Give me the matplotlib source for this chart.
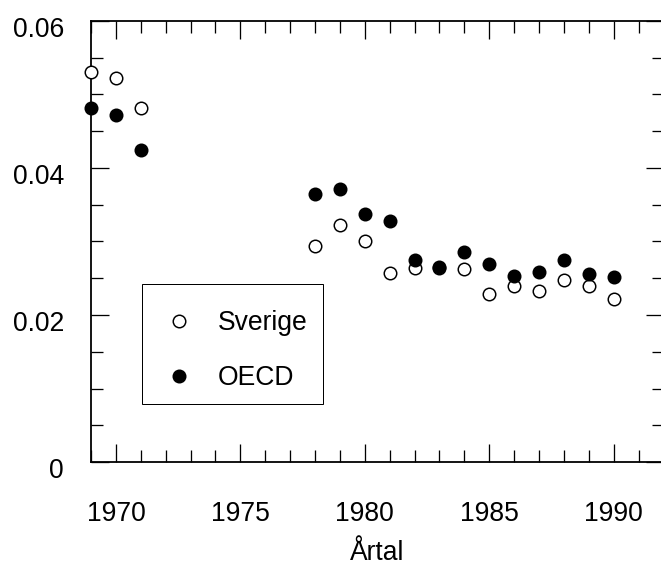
import matplotlib
matplotlib.use("Agg")
import matplotlib.pyplot as plt
import matplotlib.transforms as mtransforms
from matplotlib.patches import Rectangle
from matplotlib.ticker import MultipleLocator, FixedLocator

# ----- ----- DATA ----- -----
years_early = [1969, 1970, 1971]
years_late = list(range(1978, 1991))
years = years_early + years_late

sverige = [0.0531, 0.0522, 0.0482,
           0.0294, 0.0322, 0.0300, 0.0257, 0.0264, 0.0264, 0.0262,
           0.0229, 0.0240, 0.0232, 0.0248, 0.0239, 0.0222]
oecd = [0.0481, 0.0472, 0.0425,
        0.0365, 0.0372, 0.0338, 0.0328, 0.0275, 0.0265, 0.0286,
        0.0269, 0.0253, 0.0258, 0.0275, 0.0256, 0.0252]

y_ticks = [0, 0.02, 0.04, 0.06]
y_tick_labels = ['0', '0.02', '0.04', '0.06']
x_ticks = [1970, 1975, 1980, 1985, 1990]

# ----- ----- FIGURE ----- -----
plt.rcParams['font.family'] = ['Liberation Sans', 'DejaVu Sans']
fs = 26.5

fig = plt.figure(figsize=(661 / 72, 567 / 72), dpi=72)
ax = fig.add_axes([91 / 661, 1 - 462 / 567, 572.5 / 661, 441 / 567])

ax.plot(years, sverige, 'o', ms=12.5, mfc='white', mec='black', mew=1.5,
        label='Sverige', clip_on=False, zorder=3)
ax.plot(years, oecd, 'o', ms=12.5, mfc='black', mec='black', mew=1.5,
        label='OECD', clip_on=False, zorder=4)

# ----- ----- AXES SETTINGS ----- -----
ax.set_xlim(1969, 1992)
ax.set_ylim(0, 0.06)
ax.xaxis.set_major_locator(FixedLocator(x_ticks))
ax.xaxis.set_minor_locator(MultipleLocator(1))
ax.set_yticks(y_ticks)
ax.set_yticklabels(y_tick_labels)
ax.yaxis.set_minor_locator(MultipleLocator(0.005))

ax.tick_params(which='both', direction='in', top=True, right=True,
               width=1.3, labelsize=fs)
ax.tick_params(which='major', length=18)
ax.tick_params(which='minor', length=12)
ax.tick_params(axis='x', which='major', pad=39)
ax.tick_params(axis='y', which='major', pad=27)

for s in ax.spines.values():
    s.set_linewidth(1.8)

# shift y labels down a bit, like the original
offset = mtransforms.ScaledTranslation(0, -6 / 72, fig.dpi_scale_trans)
for lab in ax.yaxis.get_majorticklabels():
    lab.set_transform(lab.get_transform() + offset)

ax.set_xlabel('Årtal', fontsize=fs, labelpad=13)

# legend entries without frame, frame drawn as a plain box
leg = ax.legend(loc='upper left', bbox_to_anchor=(0.0886, 0.386),
                borderaxespad=0, fontsize=fs, frameon=False,
                borderpad=0.7, handlelength=1.39,
                handletextpad=0.77, labelspacing=1.08, numpoints=1)
ax.add_patch(Rectangle((0.0886, 0.1308), 0.4047 - 0.0886, 0.403 - 0.1308,
                       transform=ax.transAxes, fill=False, lw=1.0,
                       edgecolor='black', zorder=5))

fig.savefig('out.png', dpi=72)
